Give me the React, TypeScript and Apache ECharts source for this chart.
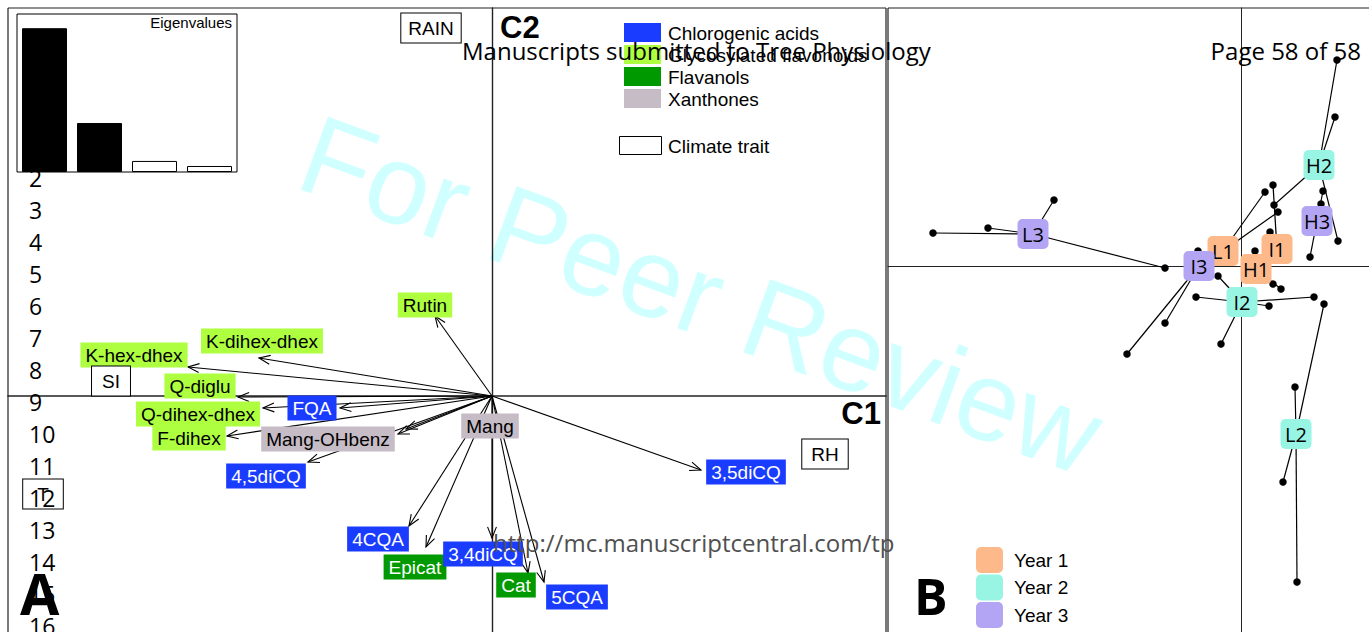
import React, { useEffect, useRef } from 'react';
import * as echarts from 'echarts';

const W = 1369;
const H = 632;

// ---------- Eigenvalue inset ----------
const eigenLabels = ['1', '2', '3', '4'];
const eigenValues = [4.55, 1.55, 0.35, 0.19];
const eigenKept = [true, true, false, false];

// ---------- Panel A: compounds (arrows) ----------
const groupNames = ['Chlorogenic acids', 'Glycosylated flavonoids', 'Flavanols', 'Xanthones'];
const groupFill = ['#1a3cff', '#adff3f', '#009a00', '#c6bcc6'];
const groupTextColor = ['#ffffff', '#000000', '#ffffff', '#000000'];
const groupDrawOrder = [1, 2, 3, 0];

const compoundNames = ['Rutin', 'K-dihex-dhex', 'K-hex-dhex', 'Q-diglu', 'Q-dihex-dhex', 'F-dihex', 'FQA', '4,5diCQ', '3,5diCQ', '4CQA', '3,4diCQ', '5CQA', 'Epicat', 'Cat', 'Mang-OHbenz', 'Mang'];
const compoundGroup = [1, 1, 1, 1, 1, 1, 0, 0, 0, 0, 0, 0, 2, 2, 3, 3];
const arrowC1 = [-0.57, -2.33, -3.04, -2.54, -2.29, -2.65, -1.52, -1.84, 2.09, -0.83, 0.0, 0.52, -0.66, 0.36, -0.94, -0.86];
const arrowC2 = [0.80, 0.38, 0.29, -0.01, -0.12, -0.40, -0.12, -0.66, -0.74, -1.30, -1.42, -1.86, -1.51, -1.77, -0.38, -0.33];
const labelC1 = [-0.67, -2.30, -3.58, -2.92, -2.94, -3.03, -1.80, -2.26, 2.54, -1.14, -0.09, 0.85, -0.77, 0.24, -1.64, -0.02];
const labelC2 = [0.91, 0.55, 0.41, 0.10, -0.18, -0.42, -0.12, -0.80, -0.76, -1.43, -1.58, -2.01, -1.71, -1.89, -0.43, -0.30];

// climate traits
const climateNames = ['RAIN', 'SI', 'RH', 'T'];
const climateC1 = [-0.61, -3.81, 3.33, -4.49];
const climateC2 = [3.68, 0.15, -0.58, -0.98];
const climateBoxPadX = [7, 10, 9, 14];

// ---------- Panel B: sites ----------
const siteLabels = ['L1', 'I1', 'H1', 'H2', 'I2', 'L2', 'L3', 'I3', 'H3'];
const siteYear = [1, 1, 1, 2, 2, 2, 3, 3, 3];
const siteC1 = [-0.18, 0.36, 0.15, 0.78, 0.01, 0.55, -2.08, -0.42, 0.76];
const siteC2 = [0.15, 0.17, -0.03, 1.01, -0.36, -1.68, 0.32, 0.0, 0.45];

const sampleSite = ['H2', 'H2', 'H3', 'H3', 'H2', 'H3', 'I1', 'L1', 'H2', 'L1', 'I1', 'H1', 'I3', 'L3', 'I2', 'H1', 'H1', 'I2', 'I2', 'I2', 'L2', 'I3', 'I2', 'I3', 'L3', 'L3', 'L3', 'L2', 'L2', 'L2'];
const sampleC1 = [0.96, 0.94, 0.82, 0.80, 0.97, 0.69, 0.32, 0.24, 0.33, 0.37, 0.29, 0.14, -0.43, -0.76, -0.23, 0.32, 0.40, -0.45, 0.28, 0.73, 0.83, -0.76, -0.20, -1.14, -3.08, -2.53, -1.87, 0.54, 0.42, 0.56];
const sampleC2 = [2.06, 1.49, 0.75, 0.62, 0.25, 0.09, 0.81, 0.74, 0.61, 0.54, 0.34, 0.15, 0.15, -0.02, -0.10, -0.18, -0.23, -0.31, -0.40, -0.31, -0.38, -0.57, -0.78, -0.88, 0.33, 0.38, 0.66, -1.21, -2.16, -3.16];

const yearNames = ['Year 1', 'Year 2', 'Year 3'];
const yearColors = ['#fdb98a', '#99f5e3', '#b3a5f3'];

// ---------- Page furniture ----------
const lineNumbers = [2, 3, 4, 5, 6, 7, 8, 9, 10, 11, 12, 13, 14, 15, 16];
const headerLeft = 'Manuscripts submitted to Tree Physiology';
const headerRight = 'Page 58 of 58';
const footerUrl = 'http://mc.manuscriptcentral.com/tp';
const watermark = 'For Peer Review';

const fontA = "'Liberation Sans', Arial, Helvetica, sans-serif";
const fontDoc = "'Open Sans', 'Noto Sans', sans-serif";

function buildOption(): any {
  const graphic: any[] = [];

  // watermark
  graphic.push({
    type: 'text', x: 306, y: 150, rotation: -0.352, z: 0, silent: true,
    style: { text: watermark, fill: '#cfffff', fontSize: 113, fontFamily: fontA, align: 'left', verticalAlign: 'middle' },
  });

  // panel frames
  const frame = { stroke: '#222', lineWidth: 1.2 };
  graphic.push({ type: 'line', z: 2, shape: { x1: 8, y1: 8, x2: 886, y2: 8 }, style: frame });
  graphic.push({ type: 'line', z: 2, shape: { x1: 8, y1: 8, x2: 8, y2: 640 }, style: frame });
  graphic.push({ type: 'line', z: 2, shape: { x1: 886, y1: 8, x2: 886, y2: 640 }, style: frame });
  graphic.push({ type: 'line', z: 2, shape: { x1: 888, y1: 8, x2: 1375, y2: 8 }, style: frame });
  graphic.push({ type: 'line', z: 2, shape: { x1: 888, y1: 8, x2: 888, y2: 640 }, style: frame });

  // legend A
  const swY = [23, 45, 67, 89];
  groupNames.forEach((g, i) => {
    graphic.push({ type: 'rect', shape: { x: 624, y: swY[i], width: 37, height: 19 }, style: { fill: groupFill[i] }, z: 20 });
    graphic.push({ type: 'text', x: 668, y: swY[i] + 10, z: 20, style: { text: g, fill: '#000', fontSize: 19, fontFamily: fontA, align: 'left', verticalAlign: 'middle' } });
  });
  graphic.push({ type: 'rect', shape: { x: 619.5, y: 136.5, width: 42, height: 18 }, style: { fill: '#fff', stroke: '#000', lineWidth: 1 }, z: 20 });
  graphic.push({ type: 'text', x: 668, y: 146, z: 20, style: { text: 'Climate trait', fill: '#000', fontSize: 19, fontFamily: fontA, align: 'left', verticalAlign: 'middle' } });

  // legend B
  yearNames.forEach((y, i) => {
    graphic.push({ type: 'rect', shape: { x: 976, y: 547 + i * 27.5, width: 27, height: 26, r: 5 }, style: { fill: yearColors[i] }, z: 20 });
    graphic.push({ type: 'text', x: 1014, y: 560 + i * 27.5, z: 20, style: { text: y, fill: '#000', fontSize: 19, fontFamily: fontA, align: 'left', verticalAlign: 'middle' } });
  });

  // axis names and panel letters
  graphic.push({ type: 'text', x: 500, y: 27, z: 20, style: { text: 'C2', fill: '#000', fontSize: 31, fontWeight: 'bold', fontFamily: fontA, align: 'left', verticalAlign: 'middle' } });
  graphic.push({ type: 'text', x: 881, y: 413, z: 20, style: { text: 'C1', fill: '#000', fontSize: 31, fontWeight: 'bold', fontFamily: fontA, align: 'right', verticalAlign: 'middle' } });
  graphic.push({ type: 'text', x: 232, y: 22, z: 30, style: { text: 'Eigenvalues', fill: '#000', fontSize: 15, fontFamily: fontA, align: 'right', verticalAlign: 'middle' } });

  // line numbers
  lineNumbers.forEach((n) => {
    graphic.push({ type: 'text', x: 29, y: 178 + (n - 2) * 32, z: 50, style: { text: String(n), fill: '#000', fontSize: 23, fontFamily: fontDoc, align: 'left', verticalAlign: 'middle' } });
  });
  graphic.push({ type: 'text', x: 20, y: 593, z: 60, style: { text: 'A', fill: '#000', fontSize: 57, fontWeight: 'bold', fontFamily: fontDoc, align: 'left', verticalAlign: 'middle' } });
  graphic.push({ type: 'text', x: 914, y: 596, z: 60, style: { text: 'B', fill: '#000', fontSize: 50, fontWeight: 'bold', fontFamily: fontDoc, align: 'left', verticalAlign: 'middle' } });

  // header / footer
  graphic.push({ type: 'text', x: 462, y: 50, z: 60, style: { text: headerLeft, fill: '#000', fontSize: 24, fontFamily: fontDoc, align: 'left', verticalAlign: 'middle' } });
  graphic.push({ type: 'text', x: 1361, y: 50, z: 60, style: { text: headerRight, fill: '#000', fontSize: 24, fontFamily: fontDoc, align: 'right', verticalAlign: 'middle' } });
  graphic.push({ type: 'text', x: 493, y: 542, z: 60, style: { text: footerUrl, fill: '#505050', fontSize: 24, fontFamily: fontDoc, align: 'left', verticalAlign: 'middle' } });

  const hideAxis = {
    axisTick: { show: false }, axisLabel: { show: false }, splitLine: { show: false },
  };

  const series: any[] = [];

  // arrows
  series.push({
    type: 'custom', xAxisIndex: 0, yAxisIndex: 0, z: 3, silent: true,
    data: arrowC1.map((x, i) => [x, arrowC2[i]]),
    renderItem: (params: any, api: any) => {
      const o = api.coord([0, 0]);
      const t = api.coord([api.value(0), api.value(1)]);
      const ang = Math.atan2(t[1] - o[1], t[0] - o[0]);
      const L = 12, a = 0.38;
      const p1 = [t[0] - L * Math.cos(ang - a), t[1] - L * Math.sin(ang - a)];
      const p2 = [t[0] - L * Math.cos(ang + a), t[1] - L * Math.sin(ang + a)];
      return {
        type: 'group',
        children: [
          { type: 'line', shape: { x1: o[0], y1: o[1], x2: t[0], y2: t[1] }, style: { stroke: '#000', lineWidth: 1.1 } },
          { type: 'polyline', shape: { points: [p1, t, p2] }, style: { stroke: '#000', fill: null, lineWidth: 1.1 } },
        ],
      };
    },
  });

  // compound labels
  groupDrawOrder.forEach((g) => {
    const data: any[] = [];
    compoundNames.forEach((n, i) => {
      if (compoundGroup[i] === g) data.push({ name: n, value: [labelC1[i], labelC2[i]] });
    });
    series.push({
      type: 'scatter', name: groupNames[g], xAxisIndex: 0, yAxisIndex: 0, z: 5, silent: true,
      symbolSize: 0, itemStyle: { opacity: 1 }, data,
      label: {
        show: true, position: 'inside', formatter: '{b}', color: groupTextColor[g], opacity: 1,
        backgroundColor: groupFill[g], padding: [2, 5, 2, 5], fontSize: 19, lineHeight: 21, fontFamily: fontA,
      },
    });
  });

  // climate traits
  series.push({
    type: 'scatter', name: 'Climate trait', xAxisIndex: 0, yAxisIndex: 0, z: 5, silent: true,
    symbolSize: 0, itemStyle: { opacity: 1 },
    data: climateNames.map((n, i) => ({
      name: n, value: [climateC1[i], climateC2[i]],
      label: { padding: [4, climateBoxPadX[i], 4, climateBoxPadX[i]] },
    })),
    label: {
      show: true, position: 'inside', formatter: '{b}', color: '#000', backgroundColor: '#fff', opacity: 1,
      borderColor: '#000', borderWidth: 1, padding: [4, 8, 4, 8], fontSize: 19, lineHeight: 21, fontFamily: fontA,
    },
  });

  // panel B: connections
  series.push({
    type: 'custom', xAxisIndex: 1, yAxisIndex: 1, z: 3, silent: true,
    encode: { x: [0, 2], y: [1, 3] },
    data: sampleC1.map((x, i) => {
      const k = siteLabels.indexOf(sampleSite[i]);
      return [x, sampleC2[i], siteC1[k], siteC2[k]];
    }),
    renderItem: (params: any, api: any) => {
      const p = api.coord([api.value(0), api.value(1)]);
      const c = api.coord([api.value(2), api.value(3)]);
      return { type: 'line', shape: { x1: p[0], y1: p[1], x2: c[0], y2: c[1] }, style: { stroke: '#000', lineWidth: 1.2 } };
    },
  });
  // panel B: samples
  series.push({
    type: 'scatter', xAxisIndex: 1, yAxisIndex: 1, z: 4, silent: true,
    symbol: 'circle', symbolSize: 7.5, itemStyle: { color: '#000', opacity: 1 },
    data: sampleC1.map((x, i) => [x, sampleC2[i]]),
  });
  // panel B: site labels per year
  [1, 2, 3].forEach((yr) => {
    const data: any[] = [];
    siteLabels.forEach((s, i) => {
      if (siteYear[i] === yr) data.push({ name: s, value: [siteC1[i], siteC2[i]] });
    });
    series.push({
      type: 'scatter', name: yearNames[yr - 1], xAxisIndex: 1, yAxisIndex: 1, z: 6, silent: true,
      symbolSize: 0, itemStyle: { opacity: 1 }, data,
      label: {
        show: true, position: 'inside', formatter: '{b}', color: '#000', opacity: 1,
        backgroundColor: yearColors[yr - 1], borderRadius: 5, padding: [5, 5, 5, 5],
        width: 21, align: 'center', fontSize: 20, lineHeight: 20, fontFamily: fontDoc,
      },
    });
  });

  // eigenvalues bars
  series.push({
    type: 'bar', xAxisIndex: 2, yAxisIndex: 2, z: 8, silent: true, barWidth: 45,
    data: eigenValues.map((v, i) => ({
      value: v,
      itemStyle: { color: eigenKept[i] ? '#000' : '#fff', borderColor: '#000', borderWidth: 1, opacity: 1 },
    })),
  });

  return {
    animation: false,
    backgroundColor: '#ffffff',
    grid: [
      { left: 8, top: 8, width: 878, height: 700, outerBoundsMode: 'none', containLabel: false, show: false },
      { left: 888, top: 8, width: 483, height: 700, outerBoundsMode: 'none', containLabel: false, show: false },
      { left: 17, top: 14, width: 220, height: 158, outerBoundsMode: 'none', show: true, borderColor: '#000', borderWidth: 1, backgroundColor: '#fff', z: 7 },
    ],
    xAxis: [
      { gridIndex: 0, type: 'value', min: -4.84, max: 3.94, z: 1, axisLine: { show: true, onZero: true, lineStyle: { color: '#222', width: 1.6 } }, ...hideAxis },
      { gridIndex: 1, type: 'value', min: -3.53, max: 1.30, z: 1, axisLine: { show: true, onZero: true, lineStyle: { color: '#222', width: 1 } }, ...hideAxis },
      { gridIndex: 2, type: 'category', data: eigenLabels, show: false },
    ],
    yAxis: [
      { gridIndex: 0, type: 'value', min: -3.12, max: 3.88, z: 1, axisLine: { show: true, onZero: true, lineStyle: { color: '#222', width: 1.4 } }, ...hideAxis },
      { gridIndex: 1, type: 'value', min: -4.42, max: 2.58, z: 1, axisLine: { show: true, onZero: true, lineStyle: { color: '#222', width: 1 } }, ...hideAxis },
      { gridIndex: 2, type: 'value', min: 0, max: 5, show: false },
    ],
    graphic: { elements: graphic },
    series,
  };
}

export default function App() {
  const ref = useRef<HTMLDivElement>(null);
  useEffect(() => {
    if (!ref.current) return;
    const chart = echarts.init(ref.current, null, { renderer: 'svg' });
    chart.setOption(buildOption());
    return () => chart.dispose();
  }, []);
  return (
    <div
      ref={ref}
      style={{ position: 'fixed', left: 0, top: 0, width: W, height: H, background: '#fff' }}
    />
  );
}
